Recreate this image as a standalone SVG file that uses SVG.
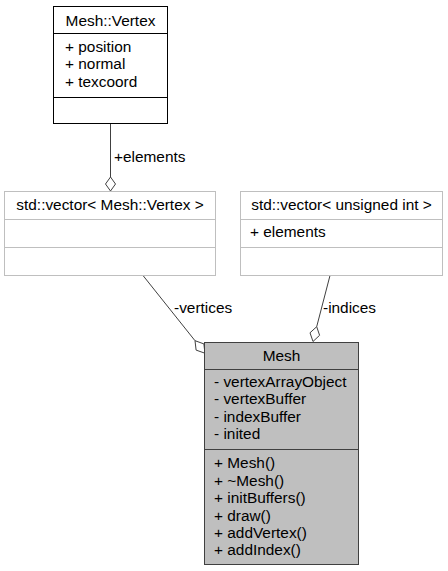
<svg xmlns="http://www.w3.org/2000/svg" width="448" height="571" viewBox="0 0 448 571">
<style>
  text { font-family: "Liberation Sans", Arial, sans-serif; font-size: 15.4px; fill: #000; }
  .title { text-anchor: middle; }
  .box-black { fill: #fff; stroke: #000; stroke-width: 1; }
  .box-gray { fill: #fff; stroke: #bfbfbf; stroke-width: 1; }
  .box-main { fill: #bfbfbf; stroke: #404040; stroke-width: 1; }
  .sep-black { stroke: #000; stroke-width: 1; }
  .sep-gray { stroke: #bfbfbf; stroke-width: 1; }
  .sep-main { stroke: #404040; stroke-width: 1; }
  .edge { stroke: #404040; stroke-width: 1; fill: none; }
  .diamond { stroke: #404040; stroke-width: 1; fill: #fff; }
</style>
<rect width="448" height="571" fill="#fff"/>
<g id="connectors">
  <line class="edge" x1="110.5" y1="123.5" x2="110.5" y2="177"/>
  <polygon class="diamond" points="110.5,177 115.5,184 110.5,191 105.5,184"/>
  <text x="114" y="161.5">+elements</text>
  <line class="edge" x1="143" y1="275.5" x2="195" y2="340.7"/>
  <polygon class="diamond" points="195,340.7 203.9,343.9 204.9,353.2 196.1,350.1"/>
  <text x="174" y="313">-vertices</text>
  <line class="edge" x1="330" y1="275.5" x2="316.7" y2="326.7"/>
  <polygon class="diamond" points="316.7,326.7 319.6,335.3 313,341.5 310,332.8"/>
  <text x="323" y="313">-indices</text>
</g>
<g id="node-mesh-vertex">
  <rect class="box-black" x="53.5" y="6.5" width="114" height="117"/>
  <line class="sep-black" x1="53.5" y1="33.5" x2="167.5" y2="33.5"/>
  <line class="sep-black" x1="53.5" y1="97.5" x2="167.5" y2="97.5"/>
  <text class="title" x="110.5" y="25.5">Mesh::Vertex</text>
  <text x="65" y="51.5">+ position</text>
  <text x="65" y="69">+ normal</text>
  <text x="65" y="86.5">+ texcoord</text>
</g>
<g id="node-vector-vertex">
  <rect class="box-gray" x="4.5" y="191.5" width="211" height="84"/>
  <line class="sep-gray" x1="4.5" y1="219.5" x2="215.5" y2="219.5"/>
  <line class="sep-gray" x1="4.5" y1="247.5" x2="215.5" y2="247.5"/>
  <text class="title" x="110" y="210">std::vector&lt; Mesh::Vertex &gt;</text>
</g>
<g id="node-vector-uint">
  <rect class="box-gray" x="240.5" y="191.5" width="202" height="84"/>
  <line class="sep-gray" x1="240.5" y1="219.5" x2="442.5" y2="219.5"/>
  <line class="sep-gray" x1="240.5" y1="247.5" x2="442.5" y2="247.5"/>
  <text class="title" x="341.5" y="210">std::vector&lt; unsigned int &gt;</text>
  <text x="250" y="236.5">+ elements</text>
</g>
<g id="node-mesh">
  <rect class="box-main" x="204.5" y="342.5" width="154" height="222"/>
  <line class="sep-main" x1="204.5" y1="369.5" x2="358.5" y2="369.5"/>
  <line class="sep-main" x1="204.5" y1="449.5" x2="358.5" y2="449.5"/>
  <text class="title" x="281.5" y="361">Mesh</text>
  <text x="214" y="386.7">- vertexArrayObject</text>
  <text x="214" y="404.1">- vertexBuffer</text>
  <text x="214" y="421.5">- indexBuffer</text>
  <text x="214" y="438.9">- inited</text>
  <text x="214" y="468.3">+ Mesh()</text>
  <text x="214" y="485.7">+ ~Mesh()</text>
  <text x="214" y="503.1">+ initBuffers()</text>
  <text x="214" y="520.5">+ draw()</text>
  <text x="214" y="537.9">+ addVertex()</text>
  <text x="214" y="555.3">+ addIndex()</text>
</g>
</svg>
